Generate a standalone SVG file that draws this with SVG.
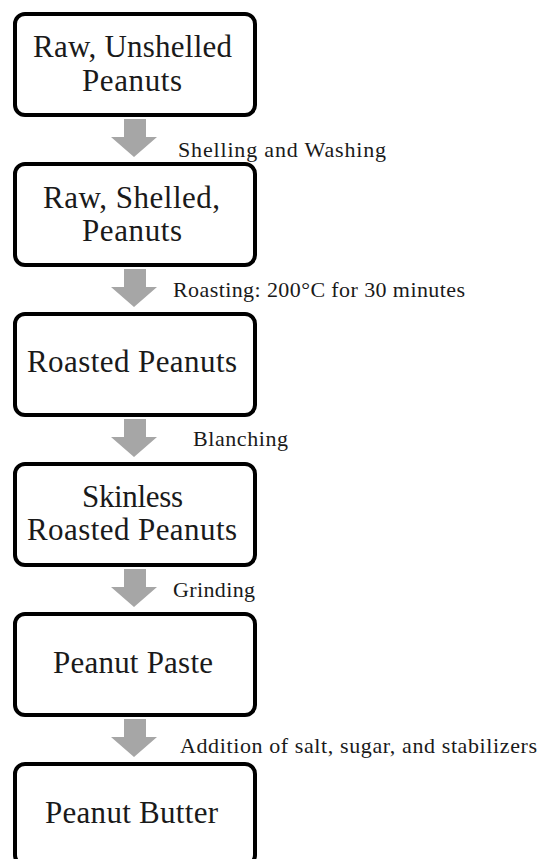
<svg xmlns="http://www.w3.org/2000/svg" width="542" height="859" viewBox="0 0 542 859">
<style>
.box{fill:#fff;stroke:#000;stroke-width:4}
.t{font-family:"Liberation Serif","Times New Roman",serif;font-size:31px;fill:#1a1a1a}
.l{font-family:"Liberation Serif","Times New Roman",serif;font-size:22px;fill:#1a1a1a}
.arr{fill:#a6a6a6}
</style>
<defs>
<path id="a" class="arr" d="M124,0 H146 V18 H157 L134,38 L111,18 H124 Z"/>
</defs>
<rect width="542" height="859" fill="#fff"/>
<g id="connectors">
<use href="#a" y="119"/>
<use href="#a" y="269"/>
<use href="#a" y="419"/>
<use href="#a" y="569"/>
<use href="#a" y="719"/>
<text class="l" x="178" y="157" textLength="208" lengthAdjust="spacing">Shelling and Washing</text>
<text class="l" x="173" y="297" textLength="292" lengthAdjust="spacing">Roasting: 200°C for 30 minutes</text>
<text class="l" x="193" y="446" textLength="95" lengthAdjust="spacing">Blanching</text>
<text class="l" x="173" y="597" textLength="82" lengthAdjust="spacing">Grinding</text>
<text class="l" x="180" y="753" textLength="357" lengthAdjust="spacing">Addition of salt, sugar, and stabilizers</text>
</g>
<g id="n1">
<rect class="box" x="15" y="14" width="240" height="101" rx="10"/>
<text class="t" x="33" y="57" textLength="199" lengthAdjust="spacing">Raw, Unshelled</text>
<text class="t" x="82" y="91" textLength="100" lengthAdjust="spacing">Peanuts</text>
</g>
<g id="n2">
<rect class="box" x="15" y="164" width="240" height="101" rx="10"/>
<text class="t" x="43" y="208" textLength="177" lengthAdjust="spacing">Raw, Shelled,</text>
<text class="t" x="82" y="241" textLength="100" lengthAdjust="spacing">Peanuts</text>
</g>
<g id="n3">
<rect class="box" x="15" y="314" width="240" height="101" rx="10"/>
<text class="t" x="27" y="372" textLength="210" lengthAdjust="spacing">Roasted Peanuts</text>
</g>
<g id="n4">
<rect class="box" x="15" y="464" width="240" height="101" rx="10"/>
<text class="t" x="82" y="507" textLength="101" lengthAdjust="spacing">Skinless</text>
<text class="t" x="27" y="540" textLength="210" lengthAdjust="spacing">Roasted Peanuts</text>
</g>
<g id="n5">
<rect class="box" x="15" y="614" width="240" height="101" rx="10"/>
<text class="t" x="53" y="673" textLength="160" lengthAdjust="spacing">Peanut Paste</text>
</g>
<g id="n6">
<rect class="box" x="15" y="764" width="240" height="101" rx="10"/>
<text class="t" x="45" y="823" textLength="173" lengthAdjust="spacing">Peanut Butter</text>
</g>
</svg>
